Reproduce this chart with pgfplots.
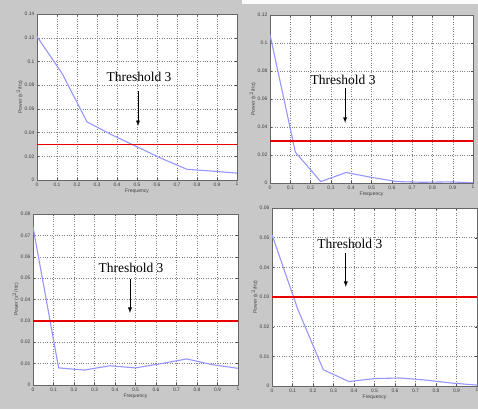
\documentclass[border=0pt]{standalone}
\usepackage{pgfplots}
\pgfplotsset{compat=1.18}
\usepackage{fontspec}
\setmainfont{Liberation Serif}
\setsansfont{Liberation Sans}
\definecolor{bg}{RGB}{200,200,200}
\definecolor{psd}{RGB}{150,150,255}
\definecolor{thrred}{RGB}{230,0,0}
\tikzset{
  psdline/.style={draw=psd, line width=1.1pt},
  thr/.style={draw=thrred, line width=1.3pt},
  thrtext/.style={font=\fontsize{13.5}{13.5}\selectfont, text=black},
}
\pgfplotsset{
  panel/.style={
    scale only axis,
    xmin=0, xmax=1, ymin=0,
    xtick={0,0.1,...,1.0},
    tick align=inside,
    axis background/.style={fill=white},
    grid=major,
    grid style={dotted, black!50, line width=0.4pt},
    major tick length=2pt,
    tick style={black!70, line width=0.3pt},
    axis line style={black!60, line width=0.4pt},
    scaled ticks=false,
    /pgf/number format/assume math mode=true,
    /pgf/number format/fixed,
    ticklabel style={font=\sffamily\fontsize{5}{6}\selectfont, text=black!75},
    xticklabel style={yshift=1pt},
    yticklabel style={xshift=1pt},
    xlabel={Frequency},
    ylabel={Power (s$^2$/Hz)},
    label style={font=\sffamily\fontsize{5}{6}\selectfont, text=black!75},
    xlabel style={yshift=4pt},
    ylabel style={yshift=-5pt},
  },
}
\begin{document}
\begin{tikzpicture}
\fill[bg] (0pt,0pt) rectangle (478pt,409pt);
\fill[white!92!bg] (242pt,405pt) rectangle (478pt,409pt);
\useasboundingbox (0pt,0pt) rectangle (478pt,409pt);

% top-left
\begin{axis}[panel, at={(37pt,395pt)}, anchor=north west, width=200pt, height=166pt,
  ymax=0.14, ytick={0,0.02,...,0.14}]
\addplot[psdline] coordinates {(0,0.121) (0.125,0.090) (0.25,0.049) (0.375,0.038) (0.5,0.028) (0.625,0.018) (0.75,0.009) (0.875,0.0075) (1,0.0058)};
\addplot[thr] coordinates {(0,0.03) (1,0.03)};
\node[thrtext] at (axis cs:0.51,0.0868) {Threshold 3};
\draw[-latex, line width=0.9pt] (axis cs:0.505,0.075) -- (axis cs:0.505,0.0455);
\end{axis}

% top-right
\begin{axis}[panel, at={(270pt,394pt)}, anchor=north west, width=203pt, height=168pt,
  ymax=0.12, ytick={0,0.02,...,0.12}]
\addplot[psdline] coordinates {(0,0.106) (0.125,0.022) (0.25,0.001) (0.375,0.0075) (0.5,0.004) (0.625,0.001) (0.75,0.0005) (0.875,0.0008) (1,0.0002)};
\addplot[thr] coordinates {(0,0.03) (1,0.03)};
\node[thrtext] at (axis cs:0.36,0.074) {Threshold 3};
\draw[-latex, line width=0.9pt] (axis cs:0.37,0.068) -- (axis cs:0.37,0.043);
\end{axis}

% bottom-left
\begin{axis}[panel, at={(33pt,195pt)}, anchor=north west, width=205pt, height=171pt,
  ymax=0.08, ytick={0,0.01,...,0.08}]
\addplot[psdline] coordinates {(0,0.074) (0.125,0.008) (0.25,0.007) (0.375,0.009) (0.5,0.008) (0.625,0.010) (0.75,0.0122) (0.875,0.0095) (1,0.0078)};
\addplot[thr] coordinates {(0,0.03) (1,0.03)};
\node[thrtext] at (axis cs:0.478,0.0547) {Threshold 3};
\draw[-latex, line width=0.9pt] (axis cs:0.473,0.0496) -- (axis cs:0.473,0.0337);
\end{axis}

% bottom-right
\begin{axis}[panel, at={(272pt,201pt)}, anchor=north west, width=205pt, height=178pt,
  ymax=0.06, ytick={0,0.01,...,0.06}]
\addplot[psdline] coordinates {(0,0.051) (0.125,0.026) (0.25,0.0055) (0.375,0.0015) (0.5,0.0025) (0.625,0.0027) (0.75,0.002) (0.875,0.001) (1,0.0003)};
\addplot[thr] coordinates {(0,0.03) (1,0.03)};
\node[thrtext] at (axis cs:0.38,0.048) {Threshold 3};
\draw[-latex, line width=0.9pt] (axis cs:0.36,0.0448) -- (axis cs:0.36,0.0334);
\end{axis}
\end{tikzpicture}
\end{document}
